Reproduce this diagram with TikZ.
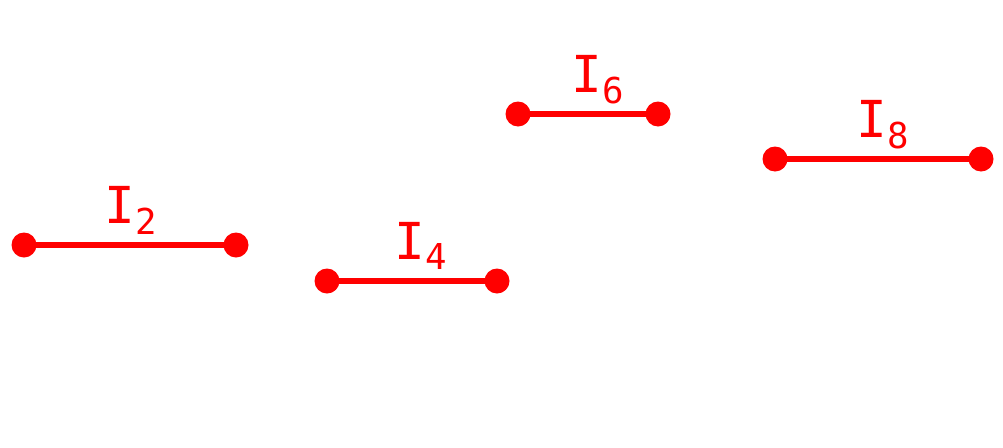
\documentclass[tikz,border=0pt]{standalone}
\usepackage{fontspec}
\newfontfamily\labfont{DejaVu Sans Mono}
\usepackage{tikz}
\usetikzlibrary{positioning}

\begin{document}
\begin{tikzpicture}[x=0.02cm, y=-0.02cm,
  dot/.style={circle, fill=red, inner sep=0pt, minimum size=0.5cm},
  seg/.style={red, line width=3.3pt},
  lab/.style={red, anchor=base west, inner sep=0pt, font=\labfont\fontsize{29}{30}\selectfont}]
\useasboundingbox (0,0) rectangle (1003,447);
% interval I_2
\node[dot] (a2) at (24,245) {};
\node[dot] (b2) at (236,245) {};
\draw[seg] (a2.center) -- (b2.center);
\node[lab] (l2) at (104,223) {I\textsubscript{2}};
% interval I_4
\node[dot] (a4) at (327,281) {};
\node[dot] (b4) at (497,281) {};
\draw[seg] (a4.center) -- (b4.center);
\node[lab] (l4) at (394,259) {I\textsubscript{4}};
% interval I_6
\node[dot] (a6) at (518,114) {};
\node[dot] (b6) at (658,114) {};
\draw[seg] (a6.center) -- (b6.center);
\node[lab] (l6) at (571,92) {I\textsubscript{6}};
% interval I_8
\node[dot] (a8) at (775,159) {};
\node[dot] (b8) at (981,159) {};
\draw[seg] (a8.center) -- (b8.center);
\node[lab] (l8) at (856,137) {I\textsubscript{8}};
\end{tikzpicture}
\end{document}
